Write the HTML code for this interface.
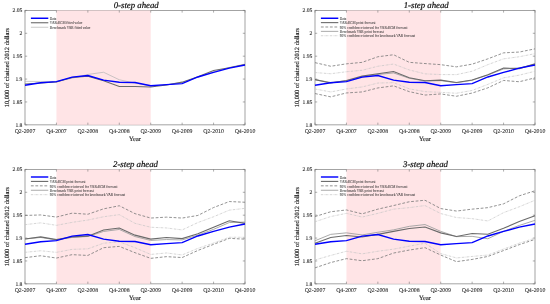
<!DOCTYPE html>
<html><head><meta charset="utf-8"><style>
html,body{margin:0;padding:0;background:#fff;}
svg{display:block;will-change:transform;}
text{text-rendering:geometricPrecision;}
.tk,.lb,.lg{font-family:"Liberation Serif",serif;}
.ti{font-family:"Liberation Serif",serif;font-style:italic;}
.tk{fill:#222222;stroke:#222222;stroke-width:0.08px;}
.lb{fill:#222222;stroke:#222222;stroke-width:0.14px;}
.lg{fill:#333;stroke:#333;stroke-width:0.03px;}
.ti{fill:#111;stroke:#111;stroke-width:0.22px;}
</style></head><body>
<svg width="550" height="304" viewBox="0 0 550 304">

<rect width="550" height="304" fill="#fff"/>
<rect x="25.00" y="10.40" width="220.00" height="114.45" fill="none" stroke="#8c8c8c" stroke-width="0.8"/>
<rect x="56.43" y="10.40" width="94.29" height="114.45" fill="#ffdfe2" fill-opacity="0.85"/>
<line x1="25.00" y1="124.85" x2="25.00" y2="122.65" stroke="#777777" stroke-width="0.6"/>
<line x1="25.00" y1="10.40" x2="25.00" y2="12.60" stroke="#777777" stroke-width="0.6"/>
<text class="tk" style="font-size:5.8px" x="25.00" y="132.85" text-anchor="middle">Q2-2007</text>
<line x1="56.43" y1="124.85" x2="56.43" y2="122.65" stroke="#777777" stroke-width="0.6"/>
<line x1="56.43" y1="10.40" x2="56.43" y2="12.60" stroke="#777777" stroke-width="0.6"/>
<text class="tk" style="font-size:5.8px" x="56.43" y="132.85" text-anchor="middle">Q4-2007</text>
<line x1="87.86" y1="124.85" x2="87.86" y2="122.65" stroke="#777777" stroke-width="0.6"/>
<line x1="87.86" y1="10.40" x2="87.86" y2="12.60" stroke="#777777" stroke-width="0.6"/>
<text class="tk" style="font-size:5.8px" x="87.86" y="132.85" text-anchor="middle">Q2-2008</text>
<line x1="119.29" y1="124.85" x2="119.29" y2="122.65" stroke="#777777" stroke-width="0.6"/>
<line x1="119.29" y1="10.40" x2="119.29" y2="12.60" stroke="#777777" stroke-width="0.6"/>
<text class="tk" style="font-size:5.8px" x="119.29" y="132.85" text-anchor="middle">Q4-2008</text>
<line x1="150.71" y1="124.85" x2="150.71" y2="122.65" stroke="#777777" stroke-width="0.6"/>
<line x1="150.71" y1="10.40" x2="150.71" y2="12.60" stroke="#777777" stroke-width="0.6"/>
<text class="tk" style="font-size:5.8px" x="150.71" y="132.85" text-anchor="middle">Q2-2009</text>
<line x1="182.14" y1="124.85" x2="182.14" y2="122.65" stroke="#777777" stroke-width="0.6"/>
<line x1="182.14" y1="10.40" x2="182.14" y2="12.60" stroke="#777777" stroke-width="0.6"/>
<text class="tk" style="font-size:5.8px" x="182.14" y="132.85" text-anchor="middle">Q4-2009</text>
<line x1="213.57" y1="124.85" x2="213.57" y2="122.65" stroke="#777777" stroke-width="0.6"/>
<line x1="213.57" y1="10.40" x2="213.57" y2="12.60" stroke="#777777" stroke-width="0.6"/>
<text class="tk" style="font-size:5.8px" x="213.57" y="132.85" text-anchor="middle">Q2-2010</text>
<line x1="245.00" y1="124.85" x2="245.00" y2="122.65" stroke="#777777" stroke-width="0.6"/>
<line x1="245.00" y1="10.40" x2="245.00" y2="12.60" stroke="#777777" stroke-width="0.6"/>
<text class="tk" style="font-size:5.8px" x="245.00" y="132.85" text-anchor="middle">Q4-2010</text>
<line x1="25.00" y1="10.40" x2="27.20" y2="10.40" stroke="#777777" stroke-width="0.6"/>
<line x1="245.00" y1="10.40" x2="242.80" y2="10.40" stroke="#777777" stroke-width="0.6"/>
<text class="tk" style="font-size:5.6px" x="22.40" y="12.45" text-anchor="end">2.05</text>
<line x1="25.00" y1="33.29" x2="27.20" y2="33.29" stroke="#777777" stroke-width="0.6"/>
<line x1="245.00" y1="33.29" x2="242.80" y2="33.29" stroke="#777777" stroke-width="0.6"/>
<text class="tk" style="font-size:5.6px" x="22.40" y="35.34" text-anchor="end">2</text>
<line x1="25.00" y1="56.18" x2="27.20" y2="56.18" stroke="#777777" stroke-width="0.6"/>
<line x1="245.00" y1="56.18" x2="242.80" y2="56.18" stroke="#777777" stroke-width="0.6"/>
<text class="tk" style="font-size:5.6px" x="22.40" y="58.23" text-anchor="end">1.95</text>
<line x1="25.00" y1="79.07" x2="27.20" y2="79.07" stroke="#777777" stroke-width="0.6"/>
<line x1="245.00" y1="79.07" x2="242.80" y2="79.07" stroke="#777777" stroke-width="0.6"/>
<text class="tk" style="font-size:5.6px" x="22.40" y="81.12" text-anchor="end">1.9</text>
<line x1="25.00" y1="101.96" x2="27.20" y2="101.96" stroke="#777777" stroke-width="0.6"/>
<line x1="245.00" y1="101.96" x2="242.80" y2="101.96" stroke="#777777" stroke-width="0.6"/>
<text class="tk" style="font-size:5.6px" x="22.40" y="104.01" text-anchor="end">1.85</text>
<line x1="25.00" y1="124.85" x2="27.20" y2="124.85" stroke="#777777" stroke-width="0.6"/>
<line x1="245.00" y1="124.85" x2="242.80" y2="124.85" stroke="#777777" stroke-width="0.6"/>
<text class="tk" style="font-size:5.6px" x="22.40" y="126.90" text-anchor="end">1.8</text>
<polyline points="25.00,81.35 40.71,81.45 56.43,81.45 72.14,78.25 87.86,74.45 103.57,72.25 119.29,79.75 135.00,83.15 150.71,85.85 166.43,84.95 182.14,82.45 197.86,77.25 213.57,71.65 229.29,67.45 245.00,64.05" stroke="#b4b4b4" stroke-width="0.7" fill="none"/>
<polyline points="25.00,83.95 40.71,82.95 56.43,81.95 72.14,77.45 87.86,76.15 103.57,80.75 119.29,86.55 135.00,86.55 150.71,86.95 166.43,84.95 182.14,82.15 197.86,76.75 213.57,70.45 229.29,67.75 245.00,64.45" stroke="#6a6a6a" stroke-width="1.1" fill="none"/>
<polyline points="25.00,85.20 40.71,82.75 56.43,81.65 72.14,77.15 87.86,75.55 103.57,80.15 119.29,82.25 135.00,82.55 150.71,85.75 166.43,84.65 182.14,83.65 197.86,76.95 213.57,72.35 229.29,68.15 245.00,64.95" stroke="#0000ff" stroke-width="1.45" fill="none"/>
<text class="lb" style="font-size:6.4px" x="135.00" y="141.05" text-anchor="middle">Year</text>
<text class="lb" style="font-size:6.4px" transform="translate(9.40 67.62) rotate(-90)" text-anchor="middle">10,000 of chained 2012 dollars</text>
<text class="ti" style="font-size:8.75px" x="136.20" y="7.50" text-anchor="middle">0-step ahead</text>
<line x1="30.90" y1="18.25" x2="48.30" y2="18.25" stroke="#0000ff" stroke-width="1.45" fill="none"/>
<text class="lg" style="font-size:3.5px" transform="translate(49.80 19.95) scale(1 1.25)">Data</text>
<line x1="30.90" y1="22.75" x2="48.30" y2="22.75" stroke="#6a6a6a" stroke-width="1.1" fill="none"/>
<text class="lg" style="font-size:3.5px" transform="translate(49.80 24.45) scale(1 1.25)">VAR-ECM fitted value</text>
<line x1="30.90" y1="27.25" x2="48.30" y2="27.25" stroke="#b4b4b4" stroke-width="0.7" fill="none"/>
<text class="lg" style="font-size:3.5px" transform="translate(49.80 28.95) scale(1 1.25)">Benchmark VAR fitted value</text>
<rect x="315.00" y="10.40" width="220.00" height="114.45" fill="none" stroke="#8c8c8c" stroke-width="0.8"/>
<rect x="346.43" y="10.40" width="94.29" height="114.45" fill="#ffdfe2" fill-opacity="0.85"/>
<line x1="315.00" y1="124.85" x2="315.00" y2="122.65" stroke="#777777" stroke-width="0.6"/>
<line x1="315.00" y1="10.40" x2="315.00" y2="12.60" stroke="#777777" stroke-width="0.6"/>
<text class="tk" style="font-size:5.8px" x="315.00" y="132.85" text-anchor="middle">Q2-2007</text>
<line x1="346.43" y1="124.85" x2="346.43" y2="122.65" stroke="#777777" stroke-width="0.6"/>
<line x1="346.43" y1="10.40" x2="346.43" y2="12.60" stroke="#777777" stroke-width="0.6"/>
<text class="tk" style="font-size:5.8px" x="346.43" y="132.85" text-anchor="middle">Q4-2007</text>
<line x1="377.86" y1="124.85" x2="377.86" y2="122.65" stroke="#777777" stroke-width="0.6"/>
<line x1="377.86" y1="10.40" x2="377.86" y2="12.60" stroke="#777777" stroke-width="0.6"/>
<text class="tk" style="font-size:5.8px" x="377.86" y="132.85" text-anchor="middle">Q2-2008</text>
<line x1="409.29" y1="124.85" x2="409.29" y2="122.65" stroke="#777777" stroke-width="0.6"/>
<line x1="409.29" y1="10.40" x2="409.29" y2="12.60" stroke="#777777" stroke-width="0.6"/>
<text class="tk" style="font-size:5.8px" x="409.29" y="132.85" text-anchor="middle">Q4-2008</text>
<line x1="440.71" y1="124.85" x2="440.71" y2="122.65" stroke="#777777" stroke-width="0.6"/>
<line x1="440.71" y1="10.40" x2="440.71" y2="12.60" stroke="#777777" stroke-width="0.6"/>
<text class="tk" style="font-size:5.8px" x="440.71" y="132.85" text-anchor="middle">Q2-2009</text>
<line x1="472.14" y1="124.85" x2="472.14" y2="122.65" stroke="#777777" stroke-width="0.6"/>
<line x1="472.14" y1="10.40" x2="472.14" y2="12.60" stroke="#777777" stroke-width="0.6"/>
<text class="tk" style="font-size:5.8px" x="472.14" y="132.85" text-anchor="middle">Q4-2009</text>
<line x1="503.57" y1="124.85" x2="503.57" y2="122.65" stroke="#777777" stroke-width="0.6"/>
<line x1="503.57" y1="10.40" x2="503.57" y2="12.60" stroke="#777777" stroke-width="0.6"/>
<text class="tk" style="font-size:5.8px" x="503.57" y="132.85" text-anchor="middle">Q2-2010</text>
<line x1="535.00" y1="124.85" x2="535.00" y2="122.65" stroke="#777777" stroke-width="0.6"/>
<line x1="535.00" y1="10.40" x2="535.00" y2="12.60" stroke="#777777" stroke-width="0.6"/>
<text class="tk" style="font-size:5.8px" x="535.00" y="132.85" text-anchor="middle">Q4-2010</text>
<line x1="315.00" y1="10.40" x2="317.20" y2="10.40" stroke="#777777" stroke-width="0.6"/>
<line x1="535.00" y1="10.40" x2="532.80" y2="10.40" stroke="#777777" stroke-width="0.6"/>
<text class="tk" style="font-size:5.6px" x="312.40" y="12.45" text-anchor="end">2.05</text>
<line x1="315.00" y1="33.29" x2="317.20" y2="33.29" stroke="#777777" stroke-width="0.6"/>
<line x1="535.00" y1="33.29" x2="532.80" y2="33.29" stroke="#777777" stroke-width="0.6"/>
<text class="tk" style="font-size:5.6px" x="312.40" y="35.34" text-anchor="end">2</text>
<line x1="315.00" y1="56.18" x2="317.20" y2="56.18" stroke="#777777" stroke-width="0.6"/>
<line x1="535.00" y1="56.18" x2="532.80" y2="56.18" stroke="#777777" stroke-width="0.6"/>
<text class="tk" style="font-size:5.6px" x="312.40" y="58.23" text-anchor="end">1.95</text>
<line x1="315.00" y1="79.07" x2="317.20" y2="79.07" stroke="#777777" stroke-width="0.6"/>
<line x1="535.00" y1="79.07" x2="532.80" y2="79.07" stroke="#777777" stroke-width="0.6"/>
<text class="tk" style="font-size:5.6px" x="312.40" y="81.12" text-anchor="end">1.9</text>
<line x1="315.00" y1="101.96" x2="317.20" y2="101.96" stroke="#777777" stroke-width="0.6"/>
<line x1="535.00" y1="101.96" x2="532.80" y2="101.96" stroke="#777777" stroke-width="0.6"/>
<text class="tk" style="font-size:5.6px" x="312.40" y="104.01" text-anchor="end">1.85</text>
<line x1="315.00" y1="124.85" x2="317.20" y2="124.85" stroke="#777777" stroke-width="0.6"/>
<line x1="535.00" y1="124.85" x2="532.80" y2="124.85" stroke="#777777" stroke-width="0.6"/>
<text class="tk" style="font-size:5.6px" x="312.40" y="126.90" text-anchor="end">1.8</text>
<polyline points="315.00,62.65 330.71,66.25 346.43,63.85 362.14,62.35 377.86,56.75 393.57,54.75 409.29,62.35 425.00,63.55 440.71,64.65 456.43,66.85 472.14,64.15 487.86,58.85 503.57,52.85 519.29,52.05 535.00,48.85" stroke="#777777" stroke-width="0.8" stroke-dasharray="2.8 1.7" fill="none"/>
<polyline points="315.00,93.55 330.71,96.85 346.43,92.95 362.14,91.95 377.86,87.95 393.57,85.85 409.29,91.65 425.00,95.05 440.71,93.95 456.43,96.25 472.14,93.05 487.86,87.85 503.57,80.45 519.29,81.75 535.00,77.85" stroke="#777777" stroke-width="0.8" stroke-dasharray="2.8 1.7" fill="none"/>
<polyline points="315.00,72.55 330.71,73.75 346.43,71.75 362.14,70.25 377.86,66.25 393.57,64.05 409.29,69.95 425.00,73.85 440.71,74.55 456.43,74.65 472.14,71.25 487.86,64.65 503.57,58.85 519.29,56.75 535.00,53.65" stroke="#c4c4c4" stroke-width="0.7" stroke-dasharray="2.4 0.8 0.5 0.8" fill="none"/>
<polyline points="315.00,88.95 330.71,91.95 346.43,88.95 362.14,86.95 377.86,83.05 393.57,82.65 409.29,88.85 425.00,91.65 440.71,92.35 456.43,93.25 472.14,90.45 487.86,84.35 503.57,77.85 519.29,75.15 535.00,71.25" stroke="#c4c4c4" stroke-width="0.7" stroke-dasharray="2.4 0.8 0.5 0.8" fill="none"/>
<polyline points="315.00,79.65 330.71,82.45 346.43,80.75 362.14,76.95 377.86,74.45 393.57,72.95 409.29,78.25 425.00,81.05 440.71,80.65 456.43,82.75 472.14,80.25 487.86,75.05 503.57,68.95 519.29,67.95 535.00,64.25" stroke="#a0a0a0" stroke-width="0.9" fill="none"/>
<polyline points="315.00,79.65 330.71,83.05 346.43,80.45 362.14,76.15 377.86,73.75 393.57,71.45 409.29,77.75 425.00,80.75 440.71,80.15 456.43,82.45 472.14,79.95 487.86,74.65 503.57,68.05 519.29,68.65 535.00,63.85" stroke="#6a6a6a" stroke-width="1.1" fill="none"/>
<polyline points="315.00,85.20 330.71,82.75 346.43,81.65 362.14,77.15 377.86,75.55 393.57,80.15 409.29,82.25 425.00,82.55 440.71,85.75 456.43,84.65 472.14,83.65 487.86,76.95 503.57,72.35 519.29,68.15 535.00,64.95" stroke="#0000ff" stroke-width="1.45" fill="none"/>
<text class="lb" style="font-size:6.4px" x="425.00" y="141.05" text-anchor="middle">Year</text>
<text class="lb" style="font-size:6.4px" transform="translate(299.40 67.62) rotate(-90)" text-anchor="middle">10,000 of chained 2012 dollars</text>
<text class="ti" style="font-size:8.75px" x="426.20" y="7.50" text-anchor="middle">1-step ahead</text>
<line x1="320.90" y1="18.25" x2="338.30" y2="18.25" stroke="#0000ff" stroke-width="1.45" fill="none"/>
<text class="lg" style="font-size:3.5px" transform="translate(339.80 19.95) scale(1 1.25)">Data</text>
<line x1="320.90" y1="22.62" x2="338.30" y2="22.62" stroke="#6a6a6a" stroke-width="1.1" fill="none"/>
<text class="lg" style="font-size:3.5px" transform="translate(339.80 24.32) scale(1 1.25)">VAR-ECM point forecast</text>
<line x1="320.90" y1="26.99" x2="338.30" y2="26.99" stroke="#777777" stroke-width="0.8" stroke-dasharray="2.8 1.7" fill="none"/>
<text class="lg" style="font-size:3.5px" transform="translate(339.80 28.69) scale(1 1.25)">95% confidence interval for VAR-ECM forecast</text>
<line x1="320.90" y1="31.36" x2="338.30" y2="31.36" stroke="#a0a0a0" stroke-width="0.9" fill="none"/>
<text class="lg" style="font-size:3.5px" transform="translate(339.80 33.06) scale(1 1.25)">Benchmark VAR point forecast</text>
<line x1="320.90" y1="35.73" x2="338.30" y2="35.73" stroke="#c4c4c4" stroke-width="0.7" stroke-dasharray="2.4 0.8 0.5 0.8" fill="none"/>
<text class="lg" style="font-size:3.5px" transform="translate(339.80 37.43) scale(1 1.25)">95% confidence interval for benchmark VAR forecast</text>
<rect x="25.00" y="169.40" width="220.00" height="114.45" fill="none" stroke="#8c8c8c" stroke-width="0.8"/>
<rect x="56.43" y="169.40" width="94.29" height="114.45" fill="#ffdfe2" fill-opacity="0.85"/>
<line x1="25.00" y1="283.85" x2="25.00" y2="281.65" stroke="#777777" stroke-width="0.6"/>
<line x1="25.00" y1="169.40" x2="25.00" y2="171.60" stroke="#777777" stroke-width="0.6"/>
<text class="tk" style="font-size:5.8px" x="25.00" y="291.85" text-anchor="middle">Q2-2007</text>
<line x1="56.43" y1="283.85" x2="56.43" y2="281.65" stroke="#777777" stroke-width="0.6"/>
<line x1="56.43" y1="169.40" x2="56.43" y2="171.60" stroke="#777777" stroke-width="0.6"/>
<text class="tk" style="font-size:5.8px" x="56.43" y="291.85" text-anchor="middle">Q4-2007</text>
<line x1="87.86" y1="283.85" x2="87.86" y2="281.65" stroke="#777777" stroke-width="0.6"/>
<line x1="87.86" y1="169.40" x2="87.86" y2="171.60" stroke="#777777" stroke-width="0.6"/>
<text class="tk" style="font-size:5.8px" x="87.86" y="291.85" text-anchor="middle">Q2-2008</text>
<line x1="119.29" y1="283.85" x2="119.29" y2="281.65" stroke="#777777" stroke-width="0.6"/>
<line x1="119.29" y1="169.40" x2="119.29" y2="171.60" stroke="#777777" stroke-width="0.6"/>
<text class="tk" style="font-size:5.8px" x="119.29" y="291.85" text-anchor="middle">Q4-2008</text>
<line x1="150.71" y1="283.85" x2="150.71" y2="281.65" stroke="#777777" stroke-width="0.6"/>
<line x1="150.71" y1="169.40" x2="150.71" y2="171.60" stroke="#777777" stroke-width="0.6"/>
<text class="tk" style="font-size:5.8px" x="150.71" y="291.85" text-anchor="middle">Q2-2009</text>
<line x1="182.14" y1="283.85" x2="182.14" y2="281.65" stroke="#777777" stroke-width="0.6"/>
<line x1="182.14" y1="169.40" x2="182.14" y2="171.60" stroke="#777777" stroke-width="0.6"/>
<text class="tk" style="font-size:5.8px" x="182.14" y="291.85" text-anchor="middle">Q4-2009</text>
<line x1="213.57" y1="283.85" x2="213.57" y2="281.65" stroke="#777777" stroke-width="0.6"/>
<line x1="213.57" y1="169.40" x2="213.57" y2="171.60" stroke="#777777" stroke-width="0.6"/>
<text class="tk" style="font-size:5.8px" x="213.57" y="291.85" text-anchor="middle">Q2-2010</text>
<line x1="245.00" y1="283.85" x2="245.00" y2="281.65" stroke="#777777" stroke-width="0.6"/>
<line x1="245.00" y1="169.40" x2="245.00" y2="171.60" stroke="#777777" stroke-width="0.6"/>
<text class="tk" style="font-size:5.8px" x="245.00" y="291.85" text-anchor="middle">Q4-2010</text>
<line x1="25.00" y1="169.40" x2="27.20" y2="169.40" stroke="#777777" stroke-width="0.6"/>
<line x1="245.00" y1="169.40" x2="242.80" y2="169.40" stroke="#777777" stroke-width="0.6"/>
<text class="tk" style="font-size:5.6px" x="22.40" y="171.45" text-anchor="end">2.05</text>
<line x1="25.00" y1="192.29" x2="27.20" y2="192.29" stroke="#777777" stroke-width="0.6"/>
<line x1="245.00" y1="192.29" x2="242.80" y2="192.29" stroke="#777777" stroke-width="0.6"/>
<text class="tk" style="font-size:5.6px" x="22.40" y="194.34" text-anchor="end">2</text>
<line x1="25.00" y1="215.18" x2="27.20" y2="215.18" stroke="#777777" stroke-width="0.6"/>
<line x1="245.00" y1="215.18" x2="242.80" y2="215.18" stroke="#777777" stroke-width="0.6"/>
<text class="tk" style="font-size:5.6px" x="22.40" y="217.23" text-anchor="end">1.95</text>
<line x1="25.00" y1="238.07" x2="27.20" y2="238.07" stroke="#777777" stroke-width="0.6"/>
<line x1="245.00" y1="238.07" x2="242.80" y2="238.07" stroke="#777777" stroke-width="0.6"/>
<text class="tk" style="font-size:5.6px" x="22.40" y="240.12" text-anchor="end">1.9</text>
<line x1="25.00" y1="260.96" x2="27.20" y2="260.96" stroke="#777777" stroke-width="0.6"/>
<line x1="245.00" y1="260.96" x2="242.80" y2="260.96" stroke="#777777" stroke-width="0.6"/>
<text class="tk" style="font-size:5.6px" x="22.40" y="263.01" text-anchor="end">1.85</text>
<line x1="25.00" y1="283.85" x2="27.20" y2="283.85" stroke="#777777" stroke-width="0.6"/>
<line x1="245.00" y1="283.85" x2="242.80" y2="283.85" stroke="#777777" stroke-width="0.6"/>
<text class="tk" style="font-size:5.6px" x="22.40" y="285.90" text-anchor="end">1.8</text>
<polyline points="25.00,215.45 40.71,214.95 56.43,217.05 72.14,213.15 87.86,214.25 103.57,208.85 119.29,205.75 135.00,213.65 150.71,218.05 166.43,217.15 182.14,218.05 197.86,215.45 213.57,207.55 229.29,201.55 245.00,202.25" stroke="#777777" stroke-width="0.8" stroke-dasharray="2.8 1.7" fill="none"/>
<polyline points="25.00,257.65 40.71,255.75 56.43,258.05 72.14,254.65 87.86,255.45 103.57,247.70 119.29,246.40 135.00,252.70 150.71,258.35 166.43,256.65 182.14,257.55 197.86,250.45 213.57,244.35 229.29,238.35 245.00,239.15" stroke="#777777" stroke-width="0.8" stroke-dasharray="2.8 1.7" fill="none"/>
<polyline points="25.00,224.65 40.71,222.85 56.43,225.35 72.14,222.35 87.86,220.05 103.57,216.75 119.29,214.65 135.00,223.35 150.71,227.25 166.43,227.95 182.14,229.95 197.86,222.55 213.57,216.75 229.29,210.15 245.00,208.35" stroke="#c4c4c4" stroke-width="0.7" stroke-dasharray="2.4 0.8 0.5 0.8" fill="none"/>
<polyline points="25.00,252.35 40.71,250.75 56.43,252.35 72.14,249.35 87.86,248.85 103.57,243.20 119.29,241.80 135.00,247.70 150.71,254.45 166.43,252.95 182.14,254.95 197.86,248.35 213.57,243.05 229.29,237.25 245.00,237.25" stroke="#c4c4c4" stroke-width="0.7" stroke-dasharray="2.4 0.8 0.5 0.8" fill="none"/>
<polyline points="25.00,238.95 40.71,237.45 56.43,239.95 72.14,237.45 87.86,236.45 103.57,231.45 119.29,229.45 135.00,236.55 150.71,240.45 166.43,239.55 182.14,239.95 197.86,235.15 213.57,229.35 229.29,222.55 245.00,222.05" stroke="#a0a0a0" stroke-width="0.9" fill="none"/>
<polyline points="25.00,238.95 40.71,236.85 56.43,239.65 72.14,236.85 87.86,236.15 103.57,229.95 119.29,228.05 135.00,235.15 150.71,239.15 166.43,237.55 182.14,238.65 197.86,233.85 213.57,227.25 229.29,220.75 245.00,223.35" stroke="#6a6a6a" stroke-width="1.1" fill="none"/>
<polyline points="25.00,244.20 40.71,241.75 56.43,240.65 72.14,236.15 87.86,234.55 103.57,239.15 119.29,241.25 135.00,241.55 150.71,244.75 166.43,243.65 182.14,242.65 197.86,235.95 213.57,231.35 229.29,227.15 245.00,223.95" stroke="#0000ff" stroke-width="1.45" fill="none"/>
<text class="lb" style="font-size:6.4px" x="135.00" y="300.05" text-anchor="middle">Year</text>
<text class="lb" style="font-size:6.4px" transform="translate(9.40 226.62) rotate(-90)" text-anchor="middle">10,000 of chained 2012 dollars</text>
<text class="ti" style="font-size:8.75px" x="135.50" y="166.80" text-anchor="middle">2-step ahead</text>
<line x1="30.90" y1="177.00" x2="48.30" y2="177.00" stroke="#0000ff" stroke-width="1.45" fill="none"/>
<text class="lg" style="font-size:3.5px" transform="translate(49.80 178.70) scale(1 1.25)">Data</text>
<line x1="30.90" y1="181.42" x2="48.30" y2="181.42" stroke="#6a6a6a" stroke-width="1.1" fill="none"/>
<text class="lg" style="font-size:3.5px" transform="translate(49.80 183.12) scale(1 1.25)">VAR-ECM point forecast</text>
<line x1="30.90" y1="185.84" x2="48.30" y2="185.84" stroke="#777777" stroke-width="0.8" stroke-dasharray="2.8 1.7" fill="none"/>
<text class="lg" style="font-size:3.5px" transform="translate(49.80 187.54) scale(1 1.25)">95% confidence interval for VAR-ECM forecast</text>
<line x1="30.90" y1="190.26" x2="48.30" y2="190.26" stroke="#a0a0a0" stroke-width="0.9" fill="none"/>
<text class="lg" style="font-size:3.5px" transform="translate(49.80 191.96) scale(1 1.25)">Benchmark VAR point forecast</text>
<line x1="30.90" y1="194.68" x2="48.30" y2="194.68" stroke="#c4c4c4" stroke-width="0.7" stroke-dasharray="2.4 0.8 0.5 0.8" fill="none"/>
<text class="lg" style="font-size:3.5px" transform="translate(49.80 196.38) scale(1 1.25)">95% confidence interval for benchmark VAR forecast</text>
<rect x="315.00" y="169.40" width="220.00" height="114.45" fill="none" stroke="#8c8c8c" stroke-width="0.8"/>
<rect x="346.43" y="169.40" width="94.29" height="114.45" fill="#ffdfe2" fill-opacity="0.85"/>
<line x1="315.00" y1="283.85" x2="315.00" y2="281.65" stroke="#777777" stroke-width="0.6"/>
<line x1="315.00" y1="169.40" x2="315.00" y2="171.60" stroke="#777777" stroke-width="0.6"/>
<text class="tk" style="font-size:5.8px" x="315.00" y="291.85" text-anchor="middle">Q2-2007</text>
<line x1="346.43" y1="283.85" x2="346.43" y2="281.65" stroke="#777777" stroke-width="0.6"/>
<line x1="346.43" y1="169.40" x2="346.43" y2="171.60" stroke="#777777" stroke-width="0.6"/>
<text class="tk" style="font-size:5.8px" x="346.43" y="291.85" text-anchor="middle">Q4-2007</text>
<line x1="377.86" y1="283.85" x2="377.86" y2="281.65" stroke="#777777" stroke-width="0.6"/>
<line x1="377.86" y1="169.40" x2="377.86" y2="171.60" stroke="#777777" stroke-width="0.6"/>
<text class="tk" style="font-size:5.8px" x="377.86" y="291.85" text-anchor="middle">Q2-2008</text>
<line x1="409.29" y1="283.85" x2="409.29" y2="281.65" stroke="#777777" stroke-width="0.6"/>
<line x1="409.29" y1="169.40" x2="409.29" y2="171.60" stroke="#777777" stroke-width="0.6"/>
<text class="tk" style="font-size:5.8px" x="409.29" y="291.85" text-anchor="middle">Q4-2008</text>
<line x1="440.71" y1="283.85" x2="440.71" y2="281.65" stroke="#777777" stroke-width="0.6"/>
<line x1="440.71" y1="169.40" x2="440.71" y2="171.60" stroke="#777777" stroke-width="0.6"/>
<text class="tk" style="font-size:5.8px" x="440.71" y="291.85" text-anchor="middle">Q2-2009</text>
<line x1="472.14" y1="283.85" x2="472.14" y2="281.65" stroke="#777777" stroke-width="0.6"/>
<line x1="472.14" y1="169.40" x2="472.14" y2="171.60" stroke="#777777" stroke-width="0.6"/>
<text class="tk" style="font-size:5.8px" x="472.14" y="291.85" text-anchor="middle">Q4-2009</text>
<line x1="503.57" y1="283.85" x2="503.57" y2="281.65" stroke="#777777" stroke-width="0.6"/>
<line x1="503.57" y1="169.40" x2="503.57" y2="171.60" stroke="#777777" stroke-width="0.6"/>
<text class="tk" style="font-size:5.8px" x="503.57" y="291.85" text-anchor="middle">Q2-2010</text>
<line x1="535.00" y1="283.85" x2="535.00" y2="281.65" stroke="#777777" stroke-width="0.6"/>
<line x1="535.00" y1="169.40" x2="535.00" y2="171.60" stroke="#777777" stroke-width="0.6"/>
<text class="tk" style="font-size:5.8px" x="535.00" y="291.85" text-anchor="middle">Q4-2010</text>
<line x1="315.00" y1="169.40" x2="317.20" y2="169.40" stroke="#777777" stroke-width="0.6"/>
<line x1="535.00" y1="169.40" x2="532.80" y2="169.40" stroke="#777777" stroke-width="0.6"/>
<text class="tk" style="font-size:5.6px" x="312.40" y="171.45" text-anchor="end">2.05</text>
<line x1="315.00" y1="192.29" x2="317.20" y2="192.29" stroke="#777777" stroke-width="0.6"/>
<line x1="535.00" y1="192.29" x2="532.80" y2="192.29" stroke="#777777" stroke-width="0.6"/>
<text class="tk" style="font-size:5.6px" x="312.40" y="194.34" text-anchor="end">2</text>
<line x1="315.00" y1="215.18" x2="317.20" y2="215.18" stroke="#777777" stroke-width="0.6"/>
<line x1="535.00" y1="215.18" x2="532.80" y2="215.18" stroke="#777777" stroke-width="0.6"/>
<text class="tk" style="font-size:5.6px" x="312.40" y="217.23" text-anchor="end">1.95</text>
<line x1="315.00" y1="238.07" x2="317.20" y2="238.07" stroke="#777777" stroke-width="0.6"/>
<line x1="535.00" y1="238.07" x2="532.80" y2="238.07" stroke="#777777" stroke-width="0.6"/>
<text class="tk" style="font-size:5.6px" x="312.40" y="240.12" text-anchor="end">1.9</text>
<line x1="315.00" y1="260.96" x2="317.20" y2="260.96" stroke="#777777" stroke-width="0.6"/>
<line x1="535.00" y1="260.96" x2="532.80" y2="260.96" stroke="#777777" stroke-width="0.6"/>
<text class="tk" style="font-size:5.6px" x="312.40" y="263.01" text-anchor="end">1.85</text>
<line x1="315.00" y1="283.85" x2="317.20" y2="283.85" stroke="#777777" stroke-width="0.6"/>
<line x1="535.00" y1="283.85" x2="532.80" y2="283.85" stroke="#777777" stroke-width="0.6"/>
<text class="tk" style="font-size:5.6px" x="312.40" y="285.90" text-anchor="end">1.8</text>
<polyline points="315.00,216.55 330.71,211.75 346.43,209.95 362.14,213.85 377.86,209.15 393.57,205.55 409.29,201.75 425.00,200.25 440.71,208.55 456.43,211.05 472.14,209.15 487.86,207.65 503.57,203.85 519.29,195.85 535.00,190.75" stroke="#777777" stroke-width="0.8" stroke-dasharray="2.8 1.7" fill="none"/>
<polyline points="315.00,267.85 330.71,262.55 346.43,258.65 362.14,260.75 377.86,258.65 393.57,253.05 409.29,250.05 425.00,247.65 440.71,255.05 456.43,261.65 472.14,259.45 487.86,256.45 503.57,250.55 519.29,244.65 535.00,239.35" stroke="#777777" stroke-width="0.8" stroke-dasharray="2.8 1.7" fill="none"/>
<polyline points="315.00,221.75 330.71,216.55 346.43,213.35 362.14,217.05 377.86,213.35 393.57,209.15 409.29,207.65 425.00,205.55 440.71,213.55 456.43,217.55 472.14,218.65 487.86,220.95 503.57,212.65 519.29,206.75 535.00,200.25" stroke="#c4c4c4" stroke-width="0.7" stroke-dasharray="2.4 0.8 0.5 0.8" fill="none"/>
<polyline points="315.00,259.95 330.71,255.45 346.43,251.25 362.14,253.85 377.86,251.25 393.57,249.15 409.29,246.15 425.00,243.25 440.71,253.55 456.43,257.95 472.14,256.45 487.86,255.05 503.57,249.05 519.29,243.15 535.00,238.15" stroke="#c4c4c4" stroke-width="0.7" stroke-dasharray="2.4 0.8 0.5 0.8" fill="none"/>
<polyline points="315.00,240.75 330.71,234.35 346.43,232.85 362.14,234.95 377.86,232.25 393.57,229.85 409.29,226.35 425.00,224.55 440.71,231.35 456.43,236.65 472.14,236.35 487.86,238.75 503.57,231.35 519.29,225.45 535.00,220.35" stroke="#a0a0a0" stroke-width="0.9" fill="none"/>
<polyline points="315.00,243.35 330.71,237.55 346.43,235.45 362.14,237.05 377.86,234.35 393.57,231.35 409.29,228.45 425.00,226.95 440.71,232.85 456.43,236.55 472.14,233.45 487.86,234.25 503.57,228.35 519.29,221.55 535.00,215.65" stroke="#6a6a6a" stroke-width="1.1" fill="none"/>
<polyline points="315.00,244.20 330.71,241.75 346.43,240.65 362.14,236.15 377.86,234.55 393.57,239.15 409.29,241.25 425.00,241.55 440.71,244.75 456.43,243.65 472.14,242.65 487.86,235.95 503.57,231.35 519.29,227.15 535.00,223.95" stroke="#0000ff" stroke-width="1.45" fill="none"/>
<text class="lb" style="font-size:6.4px" x="425.00" y="300.05" text-anchor="middle">Year</text>
<text class="lb" style="font-size:6.4px" transform="translate(299.40 226.62) rotate(-90)" text-anchor="middle">10,000 of chained 2012 dollars</text>
<text class="ti" style="font-size:8.75px" x="425.50" y="166.80" text-anchor="middle">3-step ahead</text>
<line x1="320.90" y1="177.00" x2="338.30" y2="177.00" stroke="#0000ff" stroke-width="1.45" fill="none"/>
<text class="lg" style="font-size:3.5px" transform="translate(339.80 178.70) scale(1 1.25)">Data</text>
<line x1="320.90" y1="181.42" x2="338.30" y2="181.42" stroke="#6a6a6a" stroke-width="1.1" fill="none"/>
<text class="lg" style="font-size:3.5px" transform="translate(339.80 183.12) scale(1 1.25)">VAR-ECM point forecast</text>
<line x1="320.90" y1="185.84" x2="338.30" y2="185.84" stroke="#777777" stroke-width="0.8" stroke-dasharray="2.8 1.7" fill="none"/>
<text class="lg" style="font-size:3.5px" transform="translate(339.80 187.54) scale(1 1.25)">95% confidence interval for VAR-ECM forecast</text>
<line x1="320.90" y1="190.26" x2="338.30" y2="190.26" stroke="#a0a0a0" stroke-width="0.9" fill="none"/>
<text class="lg" style="font-size:3.5px" transform="translate(339.80 191.96) scale(1 1.25)">Benchmark VAR point forecast</text>
<line x1="320.90" y1="194.68" x2="338.30" y2="194.68" stroke="#c4c4c4" stroke-width="0.7" stroke-dasharray="2.4 0.8 0.5 0.8" fill="none"/>
<text class="lg" style="font-size:3.5px" transform="translate(339.80 196.38) scale(1 1.25)">95% confidence interval for benchmark VAR forecast</text>
</svg>
</body></html>
